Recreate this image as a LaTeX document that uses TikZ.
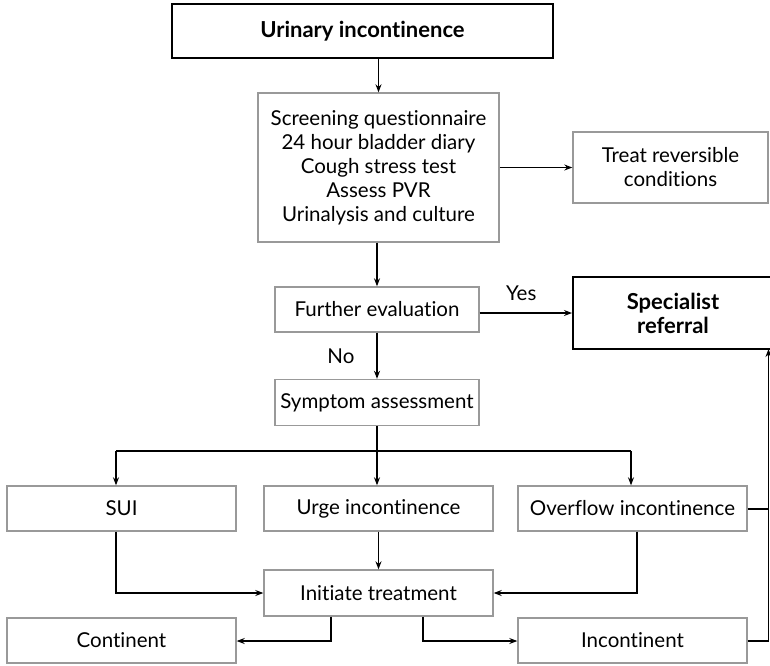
\documentclass[tikz,border=0pt]{standalone}
\usepackage{fontspec}
\setmainfont{Lato}[Ligatures=NoCommon]
\usetikzlibrary{arrows.meta,calc}
\definecolor{boxgray}{gray}{0.6}
\tikzset{
  gbox/.style={draw=boxgray,line width=1.4pt,fill=white,align=center,inner sep=0pt,
    font=\fontsize{20.5}{24}\selectfont},
  kbox/.style={draw=black,line width=2pt,fill=white,align=center,inner sep=0pt,
    font=\fontsize{22}{24}\selectfont\bfseries},
  conn/.style={draw=black,line width=1.1pt,-{Stealth[length=8pt,width=6pt]}},
  plain/.style={draw=black,line width=1.1pt},
  lbl/.style={font=\fontsize{20.5}{24}\selectfont,inner sep=0pt}
}
\begin{document}
\begin{tikzpicture}[x=1pt,y=-1pt]
\useasboundingbox (0,0) rectangle (770,665);
\begin{scope}
\clip (0,0) rectangle (770,665);
\node[kbox,minimum width=381pt,minimum height=54pt] (ui) at (362.5,31) {Urinary incontinence};
\node[gbox,minimum width=241pt,minimum height=149pt] (scr) at (378.5,167.5) {Screening questionnaire\\24 hour bladder diary\\Cough stress test\\Assess PVR\\Urinalysis and culture};
\node[gbox,minimum width=195pt,minimum height=71pt] (trc) at (670.5,167.5) {Treat reversible\\conditions};
\node[gbox,minimum width=204pt,minimum height=45pt] (fe) at (377,309.5) {Further evaluation};
\node[kbox,minimum width=200pt,minimum height=72pt] (sr) at (673,313) {Specialist\\referral};
\node[gbox,minimum width=204pt,minimum height=46pt] (sa) at (377,402.5) {Symptom assessment};
\node[gbox,minimum width=229pt,minimum height=45pt] (sui) at (121.5,508.5) {SUI};
\node[gbox,minimum width=229pt,minimum height=45pt] (urge) at (378.5,508.5) {Urge incontinence};
\node[gbox,minimum width=229pt,minimum height=45pt] (ovf) at (632.5,508.5) {Overflow incontinence};
\node[gbox,minimum width=229pt,minimum height=46pt] (it) at (378.5,593) {Initiate treatment};
\node[gbox,minimum width=229pt,minimum height=45pt] (cont) at (121.5,640.5) {Continent};
\node[gbox,minimum width=229pt,minimum height=45pt] (inc) at (632.5,640.5) {Incontinent};

\coordinate (br) at (377,451);
\coordinate (fbtop) at (768.5,349);
\coordinate (fbo) at (768.5,509);
\coordinate (fbi) at (768.5,641);

\draw[conn] (scr.north |- ui.south) -- (scr.north);
\draw[conn] (scr.south -| fe.north) -- (fe.north);
\draw[conn] (scr.east |- trc.west) -- (trc.west);
\draw[conn] (fe.east |- sr.west) -- node[lbl,above=12pt,pos=0.45] {Yes} (sr.west);
\draw[conn] (fe.south) -- node[lbl,left=22pt,pos=0.5] {No} (sa.north);
\draw[conn] (sa.south) -- (sa.south |- urge.north);
\draw[conn] (br -| 116,0) -- (116,0 |- sui.north);
\draw[plain] (br -| 116,0) -- (br -| 631,0);
\draw[conn] (br -| 631,0) -- (631,0 |- ovf.north);
\draw[conn] (urge.south -| it.north) -- (it.north);
\draw[conn] (116,0 |- sui.south) -- (116,593) -- (it.west);
\draw[conn] (637,0 |- ovf.south) -- (637,593) -- (it.east);
\draw[conn] (331,0 |- it.south) -- (331,641) -- (cont.east |- 0,641);
\draw[conn] (423,0 |- it.south) -- (423,641) -- (inc.west |- 0,641);
\draw[plain] (ovf.east |- fbo) -- (fbo);
\draw[conn] (inc.east |- fbi) -- (fbi) -- (fbtop);
\end{scope}
\end{tikzpicture}
\end{document}
